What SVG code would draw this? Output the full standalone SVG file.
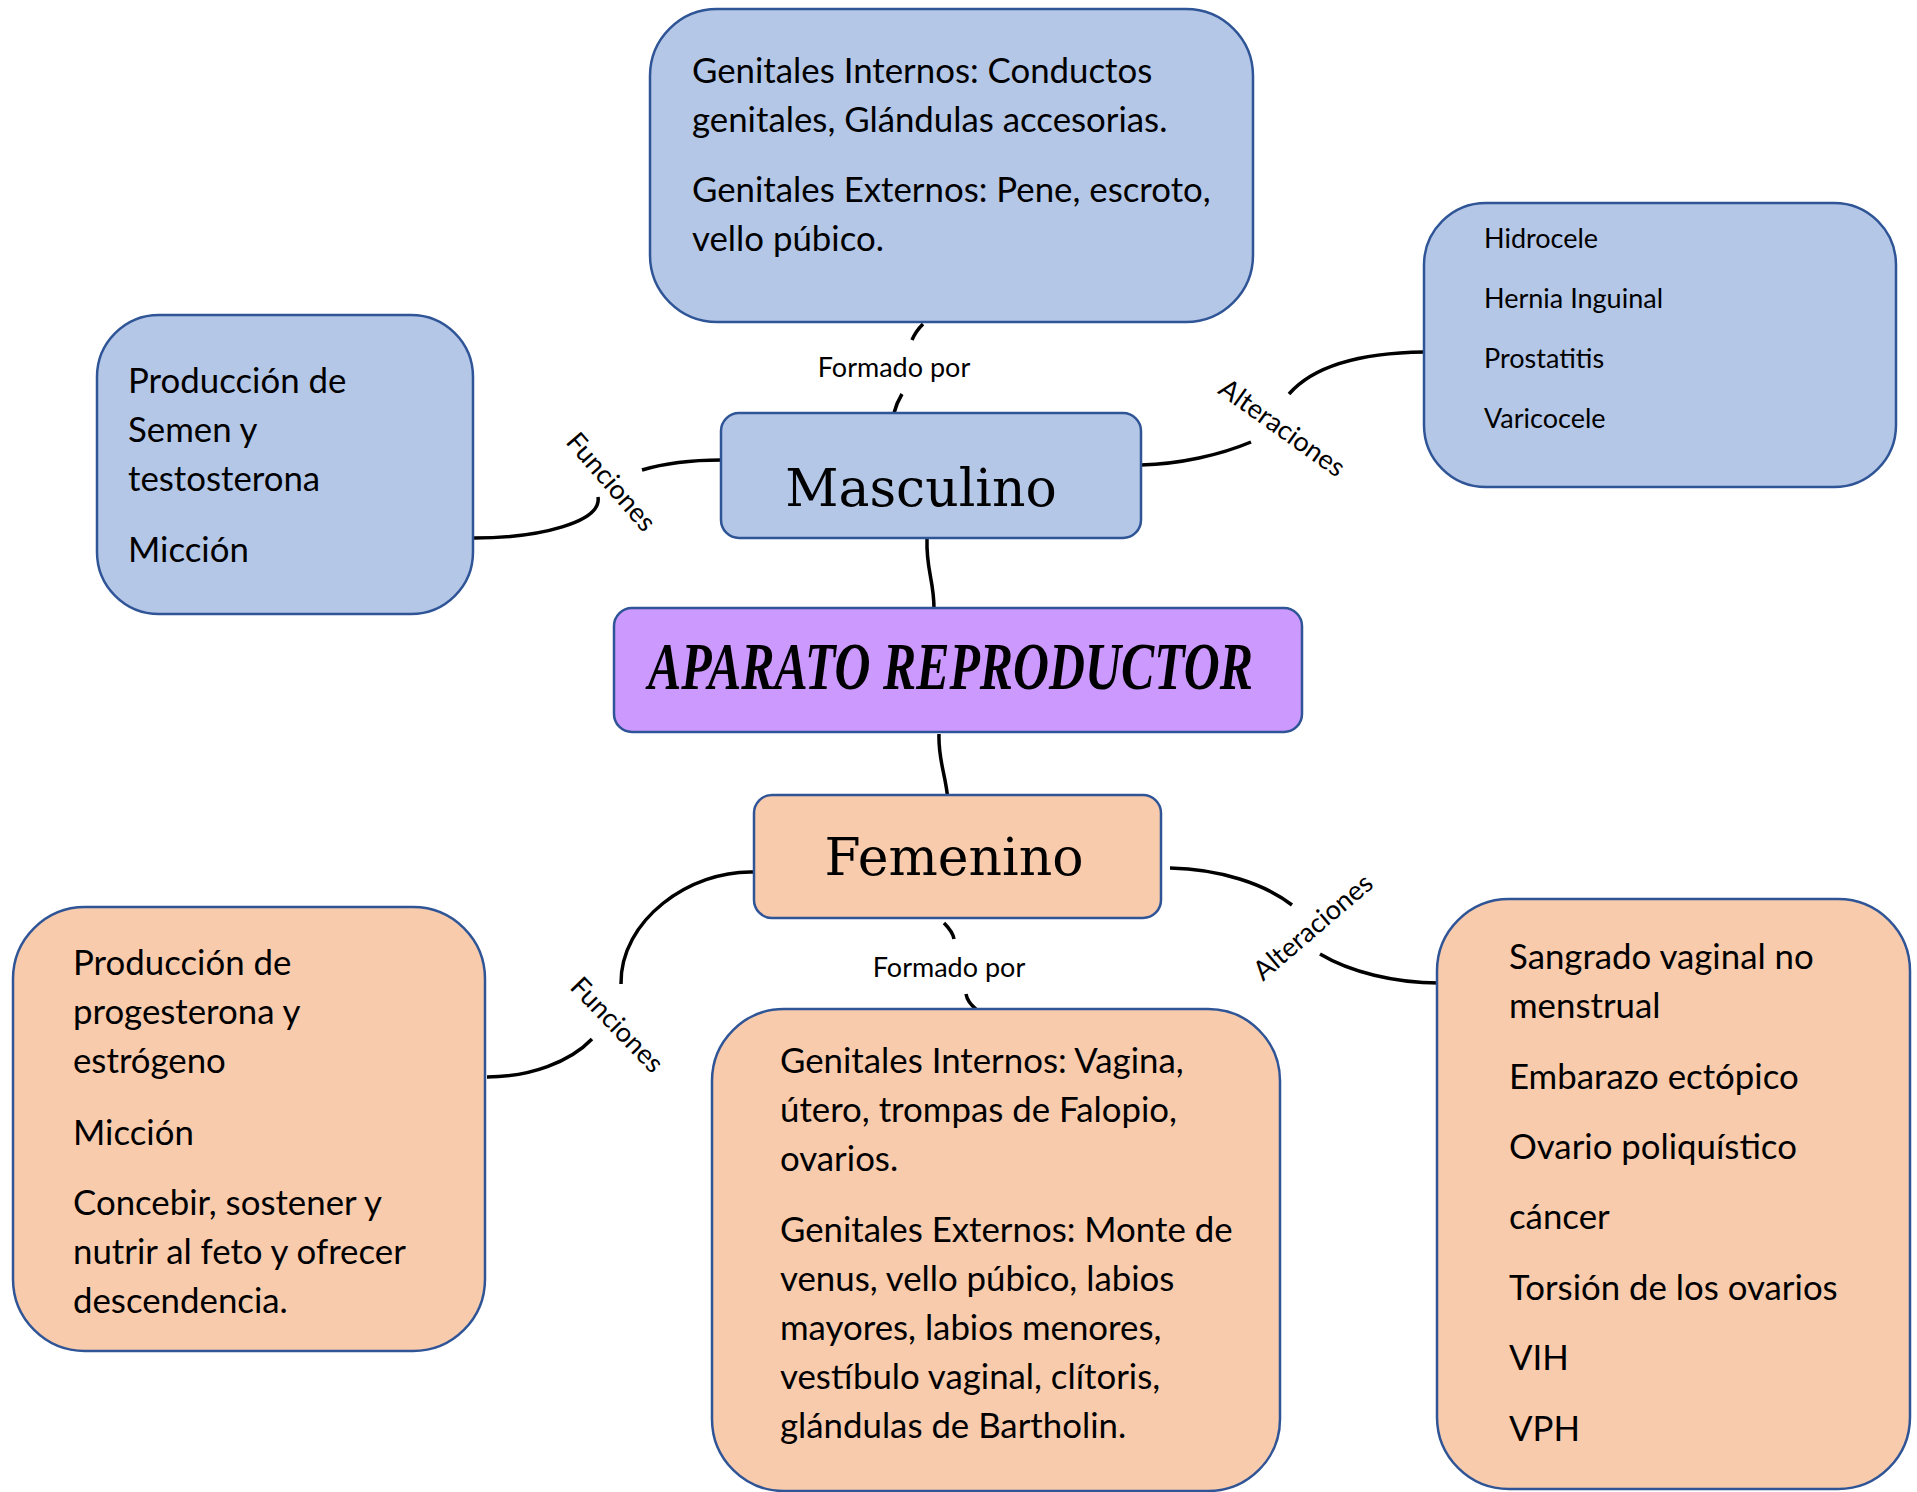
<svg xmlns="http://www.w3.org/2000/svg" width="1917" height="1492" viewBox="0 0 1917 1492">
<style>
.blue{fill:#B4C7E7;stroke:#2F5597;stroke-width:2.5}
.peach{fill:#F8CBAD;stroke:#2F5597;stroke-width:2.5}
.purple{fill:#CC99FF;stroke:#2F5597;stroke-width:2.5}
.t{font-family:Lato,"Liberation Sans",sans-serif;font-size:34.8px;fill:#000}
.s{font-family:Lato,"Liberation Sans",sans-serif;font-size:27px;fill:#000}
.lbl{font-family:Lato,"Liberation Sans",sans-serif;font-size:27px;fill:#000;text-anchor:middle}
.big{font-family:"DejaVu Serif","Liberation Serif",serif;font-size:52px;fill:#000;text-anchor:middle}
.title{font-family:"Liberation Serif",serif;font-style:italic;font-weight:bold;font-size:68px;fill:#000}
.c{fill:none;stroke:#000;stroke-width:3.5}
</style>
<rect width="1917" height="1492" fill="#fff"/>
<g id="connectors">
<path class="c" d="M894,413 C896,405 899,399 902,394"/>
<path class="c" d="M912,340 C915,333 919,328 923,324"/>
<path class="c" d="M721,460 C690,460 662,464 642,470"/>
<path class="c" d="M598,497 C602,522 540,538 474,538"/>
<path class="c" d="M1141,465 C1180,464 1220,455 1251,442"/>
<path class="c" d="M1289,394 C1310,370 1350,353 1424,352"/>
<path class="c" d="M927,539 C926,570 934,580 934,609"/>
<path class="c" d="M939,734 C938,760 946,775 948,801"/>
<path class="c" d="M944,923 C949,928 953,933 954,939"/>
<path class="c" d="M966,994 C967,1000 971,1005 976,1009"/>
<path class="c" d="M754,872 C690,870 620,920 621,984"/>
<path class="c" d="M592,1039 C570,1062 530,1077 487,1077"/>
<path class="c" d="M1170,868 C1220,869 1265,884 1292,905"/>
<path class="c" d="M1320,954 C1350,972 1395,983 1439,983"/>
<text class="lbl" x="894" y="377">Formado por</text>
<text class="lbl" transform="translate(611,482) rotate(49)" y="9">Funciones</text>
<text class="lbl" transform="translate(1282,428) rotate(35.5)" y="9">Alteraciones</text>
<text class="lbl" x="949" y="977">Formado por</text>
<text class="lbl" transform="translate(617,1025) rotate(46)" y="9">Funciones</text>
<text class="lbl" transform="translate(1313,927) rotate(-40.5)" y="9">Alteraciones</text>
</g>
<g id="top-masc">
<rect class="blue" x="650" y="9" width="603" height="313" rx="67"/>
<text class="t" x="692" y="83">Genitales Internos: Conductos</text>
<text class="t" x="692" y="132">genitales, Glándulas accesorias.</text>
<text class="t" x="692" y="202">Genitales Externos: Pene, escroto,</text>
<text class="t" x="692" y="251">vello púbico.</text>
</g>
<g id="func-masc">
<rect class="blue" x="97" y="315" width="376" height="299" rx="62"/>
<text class="t" x="128" y="393">Producción de</text>
<text class="t" x="128" y="442">Semen y</text>
<text class="t" x="128" y="491">testosterona</text>
<text class="t" x="128" y="562">Micción</text>
</g>
<g id="alt-masc">
<rect class="blue" x="1424" y="203" width="472" height="284" rx="62"/>
<text class="s" x="1484" y="248">Hidrocele</text>
<text class="s" x="1484" y="308">Hernia Inguinal</text>
<text class="s" x="1484" y="368">Prostatitis</text>
<text class="s" x="1484" y="428">Varicocele</text>
</g>
<g id="masculino">
<rect class="blue" x="721" y="413" width="420" height="125" rx="18"/>
<text class="big" x="921" y="506">Masculino</text>
</g>
<g id="aparato">
<rect class="purple" x="614" y="608" width="688" height="124" rx="18"/>
<text class="title" x="648" y="689" textLength="605" lengthAdjust="spacingAndGlyphs">APARATO REPRODUCTOR</text>
</g>
<g id="femenino">
<rect class="peach" x="754" y="795" width="407" height="123" rx="18"/>
<text class="big" x="954" y="875">Femenino</text>
</g>
<g id="func-fem">
<rect class="peach" x="13" y="907" width="472" height="444" rx="72"/>
<text class="t" x="73" y="975">Producción de</text>
<text class="t" x="73" y="1024">progesterona y</text>
<text class="t" x="73" y="1073">estrógeno</text>
<text class="t" x="73" y="1145">Micción</text>
<text class="t" x="73" y="1215">Concebir, sostener y</text>
<text class="t" x="73" y="1264">nutrir al feto y ofrecer</text>
<text class="t" x="73" y="1313">descendencia.</text>
</g>
<g id="form-fem">
<rect class="peach" x="712" y="1009" width="568" height="482" rx="72"/>
<text class="t" x="780" y="1073">Genitales Internos: Vagina,</text>
<text class="t" x="780" y="1122">útero, trompas de Falopio,</text>
<text class="t" x="780" y="1171">ovarios.</text>
<text class="t" x="780" y="1242">Genitales Externos: Monte de</text>
<text class="t" x="780" y="1291">venus, vello púbico, labios</text>
<text class="t" x="780" y="1340">mayores, labios menores,</text>
<text class="t" x="780" y="1389">vestíbulo vaginal, clítoris,</text>
<text class="t" x="780" y="1438">glándulas de Bartholin.</text>
</g>
<g id="alt-fem">
<rect class="peach" x="1437" y="899" width="473" height="590" rx="72"/>
<text class="t" x="1509" y="969">Sangrado vaginal no</text>
<text class="t" x="1509" y="1018">menstrual</text>
<text class="t" x="1509" y="1089">Embarazo ectópico</text>
<text class="t" x="1509" y="1159">Ovario poliquístico</text>
<text class="t" x="1509" y="1229">cáncer</text>
<text class="t" x="1509" y="1300">Torsión de los ovarios</text>
<text class="t" x="1509" y="1370">VIH</text>
<text class="t" x="1509" y="1441">VPH</text>
</g>
</svg>
